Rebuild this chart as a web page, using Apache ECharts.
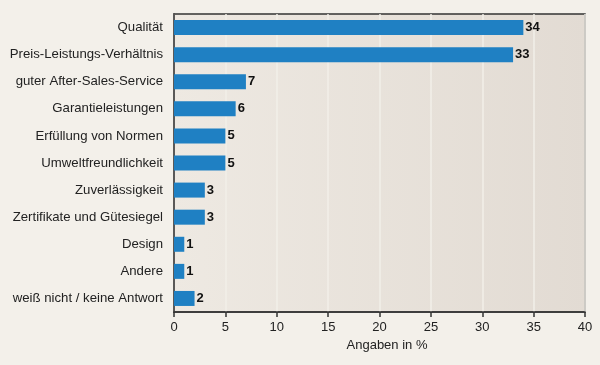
<!DOCTYPE html>
<html><head><meta charset="utf-8">
<script src="https://cdn.jsdelivr.net/npm/echarts@6/dist/echarts.min.js"></script>
<style>html,body{margin:0;padding:0;background:#f3f0ea;}#c{width:600px;height:365px;}</style>
</head><body><div id="c"></div>
<script>
const categories = ["Qualität","Preis-Leistungs-Verhältnis","guter After-Sales-Service","Garantieleistungen","Erfüllung von Normen","Umweltfreundlichkeit","Zuverlässigkeit","Zertifikate und Gütesiegel","Design","Andere","weiß nicht / keine Antwort"];
const values = [34,33,7,6,5,5,3,3,1,1,2];
const xTicks = [0,5,10,15,20,25,30,35,40];
const axisTitle = "Angaben in %";

const chart = echarts.init(document.getElementById('c'));
chart.setOption({
  backgroundColor: '#f3f0ea',
  animation: false,
  grid: {
    left: 174, right: 15, top: 14, bottom: 53,
    show: true,
    backgroundColor: new echarts.graphic.LinearGradient(0,0,1,0,[{offset:0,color:'#eee9e2'},{offset:1,color:'#e2dbd3'}]),
    borderColor: '#333', borderWidth: 1.5
  },
  xAxis: {
    type: 'value', min: xTicks[0], max: xTicks[xTicks.length-1], interval: 5,
    name: axisTitle, nameLocation: 'middle', nameGap: 25,
    nameTextStyle: {fontFamily: 'Liberation Sans, Arial', fontSize: 13, color: '#222', padding: [0,0,0,15]},
    axisLine: {show: true, lineStyle: {color: '#333', width: 1.5}},
    axisTick: {show: true, length: 5, inside: false, lineStyle: {color: '#333', width: 1.5}},
    axisLabel: {fontFamily: 'Liberation Sans, Arial', fontSize: 13, color: '#222', margin: 9},
    splitLine: {show: true, lineStyle: {color: '#f2efe9', width: 1.5}}
  },
  yAxis: {
    type: 'category', data: categories, inverse: true,
    axisLine: {show: true, lineStyle: {color: '#333', width: 1.5}},
    axisTick: {show: false},
    axisLabel: {fontFamily: 'Liberation Sans, Arial', fontSize: 13.2, color: '#222', margin: 11}
  },
  series: [{
    type: 'bar', data: values, barWidth: 15,
    itemStyle: {color: '#1f80c3'},
    label: {show: true, position: 'right', distance: 2, fontFamily: 'Liberation Sans, Arial', fontWeight: 'bold', fontSize: 13, color: '#111'}
  }]
});
</script></body></html>
